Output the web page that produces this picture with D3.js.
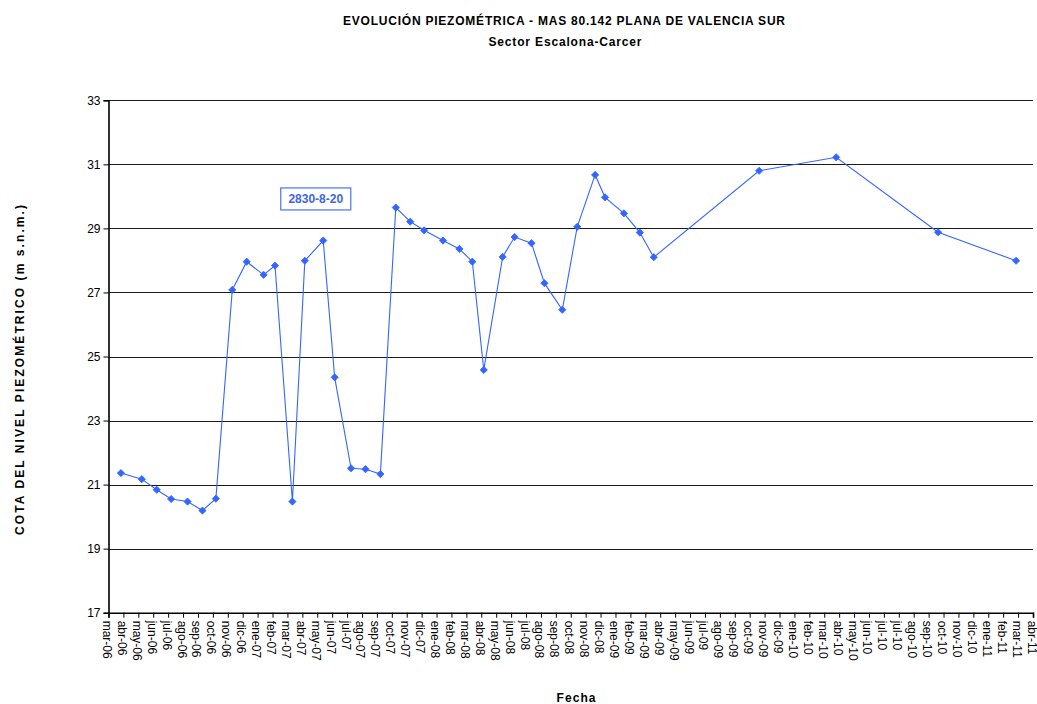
<!DOCTYPE html>
<html><head><meta charset="utf-8">
<script src="https://cdn.jsdelivr.net/npm/d3@7"></script>
<style>
body{margin:0;background:#fff}
svg{display:block}
text{font-family:Arial,"Liberation Sans",sans-serif}
</style>
</head><body>
<svg id="chart" width="1037" height="704"></svg>
<script>
// ---- data ----
const dates = [
  "2006-04-18","2006-05-30","2006-06-29","2006-07-28","2006-08-30","2006-09-29","2006-10-26",
  "2006-11-28","2006-12-27","2007-01-30","2007-02-22","2007-03-29","2007-04-23","2007-05-30",
  "2007-06-22","2007-07-25","2007-08-23","2007-09-22","2007-10-23","2007-11-21","2007-12-19",
  "2008-01-26","2008-02-28","2008-03-25","2008-04-17","2008-05-25","2008-06-18","2008-07-22",
  "2008-08-17","2008-09-22","2008-10-22","2008-11-27","2008-12-17","2009-01-24","2009-02-25",
  "2009-03-25","2009-10-23","2010-03-27","2010-10-18","2011-03-24"
];
const levels = [
  21.36,21.17,20.84,20.55,20.47,20.19,20.56,
  27.08,27.96,27.55,27.84,20.47,27.99,28.62,
  24.35,21.51,21.48,21.33,29.65,29.21,28.94,
  28.62,28.36,27.96,24.58,28.11,28.73,28.54,
  27.29,26.46,29.05,30.67,29.97,29.47,28.87,
  28.10,30.80,31.22,28.88,27.99
];
const yTicks = [17,19,21,23,25,27,29,31,33];
const monthNames = ["ene","feb","mar","abr","may","jun","jul","ago","sep","oct","nov","dic"];
const tickStart = "2006-03-24";
const tickStepDays = 30;
const tickCount = 63;
const titleText = "EVOLUCIÓN PIEZOMÉTRICA - MAS 80.142 PLANA DE VALENCIA SUR";
const subtitleText = "Sector Escalona-Carcer";
const yTitleText = "COTA DEL NIVEL PIEZOMÉTRICO (m s.n.m.)";
const xTitleText = "Fecha";
const noteText = "2830-8-20";
const noteDate = "2007-05-15";
const noteValue = 29.92;

(function draw() {
  const parse = d3.timeParse("%Y-%m-%d");
  const svg = d3.select("#chart");
  const pLeft = 108.5, pRight = 1033, pTop = 100.3, pBottom = 612.7;
  const blue = "#3366ff";

  const t0 = parse(tickStart);
  const tickDates = d3.range(tickCount).map(k => d3.timeDay.offset(t0, k * tickStepDays));
  const x = d3.scaleTime().domain([tickDates[0], tickDates[tickDates.length - 1]]).range([pLeft, pRight]);
  const y = d3.scaleLinear().domain([17, 33]).range([pBottom, pTop]);

  const data = dates.map((d, i) => ({date: parse(d), v: levels[i]}));

  // gridlines
  svg.append("g").selectAll("line").data(yTicks.filter(v => v > 17)).join("line")
    .attr("x1", pLeft).attr("x2", pRight)
    .attr("y1", d => Math.round(y(d)) + 0.5).attr("y2", d => Math.round(y(d)) + 0.5)
    .attr("stroke", "#1a1a1a").attr("stroke-width", 1);

  // y axis
  const yAxis = svg.append("g").attr("transform", `translate(${pLeft},0)`)
    .call(d3.axisLeft(y).tickValues(yTicks).tickSize(5).tickPadding(3).tickFormat(d3.format("d")));
  yAxis.select(".domain").attr("stroke", "#000").attr("stroke-width", 1.6);
  yAxis.selectAll(".tick line").attr("stroke", "#000");
  yAxis.selectAll(".tick text").attr("font-size", 12).attr("font-family", "Arial, 'Liberation Sans', sans-serif").attr("fill", "#000");

  // x axis
  const fmt = d => monthNames[d.getMonth()] + "-" + d3.timeFormat("%y")(d);
  const xAxis = svg.append("g").attr("transform", `translate(0,${pBottom})`)
    .call(d3.axisBottom(x).tickValues(tickDates).tickSize(5).tickFormat(fmt));
  xAxis.select(".domain").attr("stroke", "#000").attr("stroke-width", 1.6);
  xAxis.selectAll(".tick line").attr("stroke", "#000");
  xAxis.selectAll(".tick text")
    .attr("font-size", 12).attr("font-family", "Arial, 'Liberation Sans', sans-serif").attr("fill", "#000")
    .attr("text-anchor", "start")
    .attr("transform", "rotate(90)")
    .attr("x", 8).attr("y", 0).attr("dy", "0.5em");

  // line
  svg.append("path").datum(data)
    .attr("fill", "none").attr("stroke", blue).attr("stroke-width", 1.1)
    .attr("d", d3.line().x(d => x(d.date)).y(d => y(d.v)));

  // markers (square diamond)
  const sqDiamond = {
    draw(ctx, size) {
      const r = Math.sqrt(size / 2);
      ctx.moveTo(0, -r); ctx.lineTo(r, 0); ctx.lineTo(0, r); ctx.lineTo(-r, 0); ctx.closePath();
    }
  };
  const diamond = d3.symbol().type(sqDiamond).size(26);
  svg.append("g").selectAll("path").data(data).join("path")
    .attr("transform", d => `translate(${x(d.date)},${y(d.v)})`)
    .attr("d", diamond).attr("fill", blue).attr("stroke", blue).attr("stroke-width", 0.8);

  // note box
  const nx = x(parse(noteDate)), ny = y(noteValue);
  const note = svg.append("g").attr("transform", `translate(${nx},${ny})`);
  note.append("rect").attr("x", -35).attr("y", -11).attr("width", 70).attr("height", 22)
    .attr("fill", "#fff").attr("stroke", "#4a72f0").attr("stroke-width", 1.2);
  note.append("text").attr("text-anchor", "middle").attr("dy", "0.36em")
    .attr("font-size", 12).attr("font-weight", "bold").attr("fill", "#3d66e8").text(noteText);

  // titles
  svg.append("text").attr("x", 564).attr("y", 25).attr("text-anchor", "middle")
    .attr("font-size", 12).attr("font-weight", "bold").attr("fill", "#000")
    .attr("textLength", 442).attr("lengthAdjust", "spacing").text(titleText);
  svg.append("text").attr("x", 565).attr("y", 46).attr("text-anchor", "middle")
    .attr("font-size", 12).attr("font-weight", "bold").attr("fill", "#000")
    .attr("textLength", 153).attr("lengthAdjust", "spacing").text(subtitleText);
  svg.append("text").attr("transform", "translate(24,370) rotate(-90)").attr("text-anchor", "middle")
    .attr("font-size", 12).attr("font-weight", "bold").attr("fill", "#000")
    .attr("textLength", 330).attr("lengthAdjust", "spacing").text(yTitleText);
  svg.append("text").attr("x", 576).attr("y", 702).attr("text-anchor", "middle")
    .attr("font-size", 12).attr("font-weight", "bold").attr("fill", "#000")
    .attr("textLength", 39).attr("lengthAdjust", "spacing").text(xTitleText);
})();
</script>
</body></html>
